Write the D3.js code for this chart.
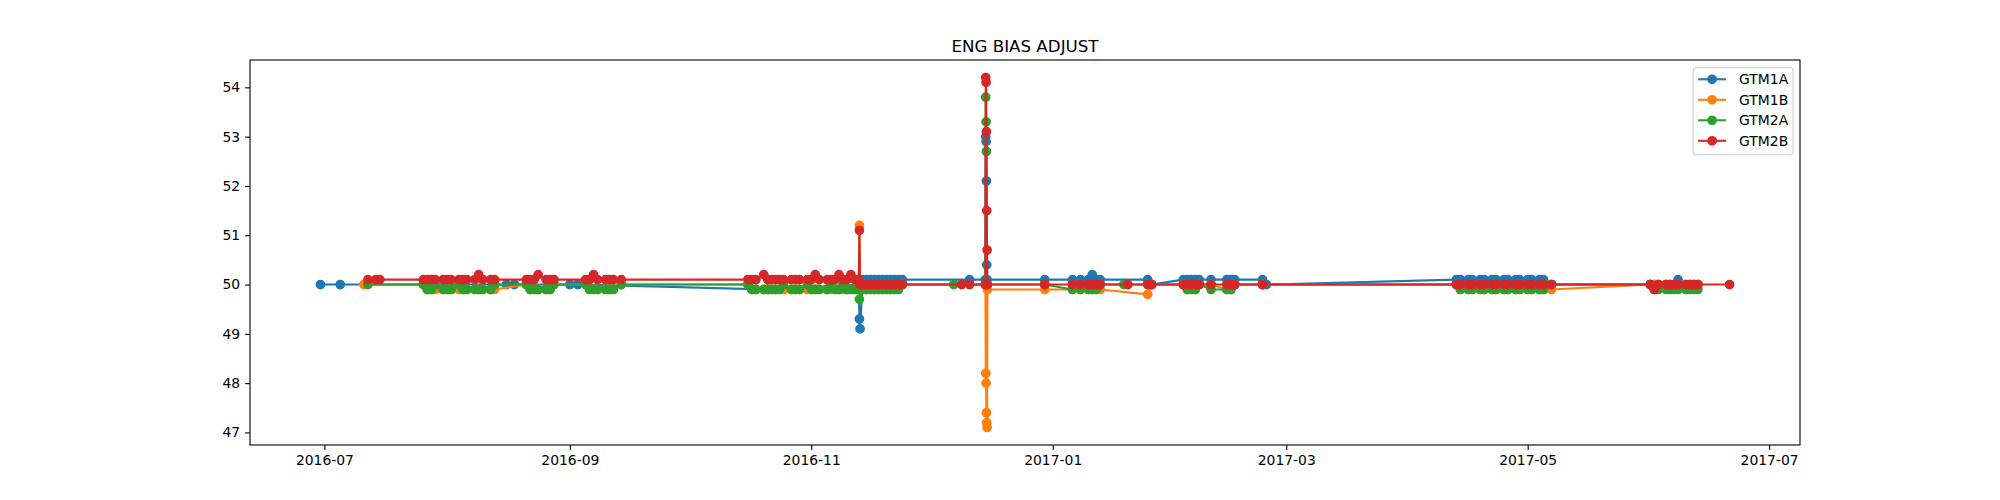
<!DOCTYPE html>
<html>
<head>
<meta charset="utf-8">
<script src="https://cdn.jsdelivr.net/npm/d3@7"></script>
<style>
  body { margin: 0; background: #fff; }
  text { font-family: "DejaVu Sans", sans-serif; }
</style>
</head>
<body>
<div id="chart"></div>
<script>
// reading times (same row for all four channels, null = no reading)
var dates = [
  "2016-06-30","2016-07-05","2016-07-11","2016-07-12","2016-07-14","2016-07-15",
  "2016-07-26","2016-07-27","2016-07-28","2016-07-29","2016-07-31","2016-08-01","2016-08-02","2016-08-04","2016-08-05","2016-08-06","2016-08-08","2016-08-09","2016-08-10","2016-08-12","2016-08-13",
  "2016-08-16","2016-08-18",
  "2016-08-21","2016-08-22","2016-08-23","2016-08-24","2016-08-26","2016-08-27","2016-08-28",
  "2016-09-01","2016-09-03",
  "2016-09-05","2016-09-06","2016-09-07","2016-09-08","2016-09-10","2016-09-11","2016-09-12","2016-09-14",
  "2016-10-16","2016-10-17","2016-10-18","2016-10-20","2016-10-21","2016-10-22",
  "2016-10-23","2016-10-24","2016-10-25","2016-10-27","2016-10-28","2016-10-29","2016-10-31","2016-11-01","2016-11-02","2016-11-03","2016-11-05","2016-11-06","2016-11-07","2016-11-08","2016-11-09","2016-11-10","2016-11-11","2016-11-12",
  "2016-11-13 00:00","2016-11-13 04:00","2016-11-13 08:00",
  "2016-11-14","2016-11-15","2016-11-16","2016-11-17","2016-11-18","2016-11-19","2016-11-20","2016-11-21","2016-11-22","2016-11-23","2016-11-24",
  "2016-12-07","2016-12-09","2016-12-11",
  "2016-12-15 00:00","2016-12-15 02:00","2016-12-15 04:00","2016-12-15 06:00","2016-12-15 08:00","2016-12-15 10:00","2016-12-15 12:00",
  "2016-12-30","2017-01-06","2017-01-08","2017-01-10","2017-01-11","2017-01-12","2017-01-13",
  "2017-01-19","2017-01-20","2017-01-25","2017-01-26",
  "2017-02-03","2017-02-04","2017-02-05","2017-02-06","2017-02-07",
  "2017-02-10","2017-02-14","2017-02-15","2017-02-16","2017-02-23","2017-02-24",
  "2017-04-13","2017-04-14","2017-04-16","2017-04-17","2017-04-19","2017-04-20","2017-04-22","2017-04-23","2017-04-25","2017-04-26","2017-04-28","2017-04-29","2017-05-01","2017-05-02","2017-05-04","2017-05-05","2017-05-07",
  "2017-06-01","2017-06-02","2017-06-03","2017-06-05","2017-06-06","2017-06-07","2017-06-08","2017-06-10","2017-06-11","2017-06-12","2017-06-13",
  "2017-06-21"
];

var gtm1a = [
  50.0,50.0,null,null,null,null,
  null,null,null,null,null,null,null,null,null,null,null,null,null,null,null,
  50.0,50.0,
  null,null,null,null,null,null,null,
  50.0,50.0,
  null,null,null,null,null,null,null,null,
  null,null,null,null,49.9,null,
  null,null,null,null,null,null,null,null,null,null,null,null,null,null,null,null,null,null,
  50.0,49.3,49.1,
  50.1,50.1,50.1,50.1,50.1,50.1,50.1,50.1,50.1,50.1,50.1,
  null,null,50.1,
  50.1,53.0,52.9,52.1,50.4,50.1,null,
  50.1,50.1,50.1,50.1,50.2,50.1,50.1,
  null,null,50.1,50.0,
  50.1,50.1,50.1,50.1,50.1,
  50.1,50.1,50.1,50.1,50.1,50.0,
  50.1,50.1,50.1,50.1,50.1,50.1,50.1,50.1,50.1,50.1,50.1,50.1,50.1,50.1,50.1,50.1,50.0,
  50.0,50.0,50.0,50.0,50.0,50.0,50.1,50.0,50.0,50.0,50.0,
  null
];

var gtm1b = [
  null,null,50.0,null,null,null,
  50.0,49.9,49.9,49.9,49.9,49.9,49.9,49.9,49.9,49.9,49.9,49.9,49.9,49.9,49.9,
  null,null,
  50.0,49.9,49.9,49.9,49.9,49.9,50.0,
  null,null,
  50.0,49.9,49.9,49.9,49.9,49.9,49.9,50.0,
  50.0,49.9,49.9,49.9,49.9,49.9,
  49.9,49.9,49.9,49.9,49.9,49.9,49.9,49.9,49.9,49.9,49.9,49.9,49.9,49.9,49.9,49.9,49.9,49.9,
  49.9,51.2,49.9,
  49.9,49.9,49.9,49.9,49.9,49.9,49.9,49.9,49.9,49.9,50.0,
  null,null,null,
  50.0,48.2,48.0,47.4,47.2,47.1,49.9,
  49.9,49.9,49.9,49.9,49.9,49.9,49.9,
  null,null,49.8,50.0,
  50.0,49.9,49.9,49.9,50.0,
  50.0,49.9,49.9,50.0,50.0,null,
  50.0,49.9,49.9,49.9,49.9,49.9,49.9,49.9,49.9,49.9,49.9,49.9,49.9,49.9,49.9,49.9,49.9,
  50.0,50.0,50.0,50.0,50.0,50.0,50.0,50.0,50.0,50.0,50.0,
  null
];

var gtm2a = [
  null,null,null,50.0,null,null,
  50.0,49.9,49.9,50.0,49.9,49.9,49.9,50.0,49.9,49.9,49.9,49.9,49.9,49.9,50.0,
  null,null,
  50.0,49.9,49.9,49.9,49.9,49.9,50.0,
  null,null,
  50.0,49.9,49.9,49.9,49.9,49.9,49.9,50.0,
  50.0,49.9,49.9,49.9,49.9,49.9,
  49.9,49.9,50.0,49.9,49.9,49.9,50.0,49.9,49.9,49.9,49.9,50.0,49.9,49.9,50.0,49.9,49.9,49.9,
  49.9,49.7,49.9,
  49.9,49.9,49.9,49.9,49.9,49.9,49.9,49.9,49.9,49.9,50.0,
  50.0,null,null,
  50.0,53.8,53.3,52.7,50.0,50.0,null,
  50.0,49.9,49.9,49.9,49.9,49.9,50.0,
  50.0,null,50.0,null,
  50.0,49.9,49.9,49.9,50.0,
  49.9,49.9,49.9,50.0,50.0,null,
  50.0,49.9,49.9,49.9,49.9,49.9,49.9,49.9,49.9,49.9,49.9,49.9,49.9,49.9,49.9,49.9,50.0,
  50.0,49.9,49.9,49.9,49.9,49.9,49.9,49.9,49.9,49.9,49.9,
  null
];

var gtm2b = [
  null,null,null,50.1,50.1,50.1,
  50.1,50.1,50.1,50.1,50.1,50.1,50.1,50.1,50.1,50.1,50.1,50.2,50.1,50.1,50.1,
  null,null,
  50.1,50.1,50.1,50.2,50.1,50.1,50.1,
  null,null,
  50.1,50.1,50.2,50.1,50.1,50.1,50.1,50.1,
  50.1,50.1,50.1,50.2,50.1,50.1,
  50.1,50.1,50.1,50.1,50.1,50.1,50.1,50.1,50.2,50.1,50.1,50.1,50.1,50.2,50.1,50.1,50.2,50.1,
  50.1,51.1,50.0,
  50.0,50.0,50.0,50.0,50.0,50.0,50.0,50.0,50.0,50.0,50.0,
  null,50.0,50.0,
  50.0,54.2,54.1,53.1,51.5,50.7,50.0,
  50.0,50.0,50.0,50.0,50.0,50.0,50.0,
  null,50.0,50.0,50.0,
  50.0,50.0,50.0,50.0,50.0,
  50.0,50.0,50.0,50.0,50.0,null,
  50.0,50.0,50.0,50.0,50.0,50.0,50.0,50.0,50.0,50.0,50.0,50.0,50.0,50.0,50.0,50.0,50.0,
  50.0,49.9,50.0,50.0,50.0,50.0,50.0,50.0,50.0,50.0,50.0,
  50.0
];

var seriesNames = ["GTM1A", "GTM1B", "GTM2A", "GTM2B"];
var seriesColors = ["#1f77b4", "#ff7f0e", "#2ca02c", "#d62728"];
var xTickLabels = ["2016-07", "2016-09", "2016-11", "2017-01", "2017-03", "2017-05", "2017-07"];
var yTickLabels = [47, 48, 49, 50, 51, 52, 53, 54];
var title = "ENG BIAS ADJUST";

// page / axes box (matplotlib 20x5 figure at 100 dpi)
var width = 2000, height = 500;
var axLeft = 250, axRight = 1800, axTop = 60, axBottom = 445;

var parseDay = d3.utcParse("%Y-%m-%d");
var parseTime = d3.utcParse("%Y-%m-%d %H:%M");
var parseMonth = d3.utcParse("%Y-%m");
function toDate(s) {
  return s.length > 10 ? parseTime(s) : parseDay(s);
}
var times = dates.map(toDate);

var allValues = [gtm1a, gtm1b, gtm2a, gtm2b];
var series = allValues.map(function(vals, i) {
  var pts = [];
  vals.forEach(function(v, j) {
    if (v !== null) pts.push({ t: times[j], v: v });
  });
  return { name: seriesNames[i], color: seriesColors[i], points: pts };
});

// domains with matplotlib style 5% margins
var allPts = d3.merge(series.map(function(s) { return s.points; }));
var tExt = d3.extent(allPts, function(p) { return p.t; });
var vExt = d3.extent(allPts, function(p) { return p.v; });
var tPad = (tExt[1] - tExt[0]) * 0.05;
var vPad = (vExt[1] - vExt[0]) * 0.05;

var x = d3.scaleUtc()
  .domain([new Date(+tExt[0] - tPad), new Date(+tExt[1] + tPad)])
  .range([axLeft, axRight]);
var y = d3.scaleLinear()
  .domain([vExt[0] - vPad, vExt[1] + vPad])
  .range([axBottom, axTop]);

var svg = d3.select("#chart").append("svg")
  .attr("width", width)
  .attr("height", height);

svg.append("rect")
  .attr("width", width).attr("height", height)
  .attr("fill", "#fff");

// axes
var xAxis = d3.axisBottom(x)
  .tickValues(xTickLabels.map(parseMonth))
  .tickFormat(d3.utcFormat("%Y-%m"))
  .tickSize(4.9).tickSizeOuter(0).tickPadding(4.9);
var yAxis = d3.axisLeft(y)
  .tickValues(yTickLabels)
  .tickFormat(d3.format("d"))
  .tickSize(4.9).tickSizeOuter(0).tickPadding(4.9);

var gx = svg.append("g").attr("transform", "translate(0," + axBottom + ")").call(xAxis);
var gy = svg.append("g").attr("transform", "translate(" + axLeft + ",0)").call(yAxis);
[gx, gy].forEach(function(g) {
  g.select(".domain").remove();
  g.selectAll(".tick line").attr("stroke", "#000").attr("stroke-width", 1.1);
  g.selectAll(".tick text")
    .attr("fill", "#000")
    .style("font-size", "13.9px")
    .style("font-family", "DejaVu Sans, sans-serif");
});

// lines and markers, one series at a time like matplotlib
var line = d3.line()
  .x(function(p) { return x(p.t); })
  .y(function(p) { return y(p.v); });

series.forEach(function(s) {
  var g = svg.append("g");
  g.append("path")
    .datum(s.points)
    .attr("d", line)
    .attr("fill", "none")
    .attr("stroke", s.color)
    .attr("stroke-width", 2.08)
    .attr("stroke-linejoin", "round")
    .attr("stroke-linecap", "square");
  g.selectAll("circle")
    .data(s.points)
    .enter().append("circle")
    .attr("cx", function(p) { return x(p.t); })
    .attr("cy", function(p) { return y(p.v); })
    .attr("r", 4.17)
    .attr("fill", s.color)
    .attr("stroke", s.color)
    .attr("stroke-width", 1.39);
});

// frame
svg.append("rect")
  .attr("x", axLeft).attr("y", axTop)
  .attr("width", axRight - axLeft).attr("height", axBottom - axTop)
  .attr("fill", "none")
  .attr("stroke", "#000")
  .attr("stroke-width", 1.1);

// title
svg.append("text")
  .attr("x", (axLeft + axRight) / 2)
  .attr("y", axTop - 8.3)
  .attr("text-anchor", "middle")
  .style("font-size", "16.7px")
  .attr("fill", "#000")
  .text(title);

// legend, upper right
var legW = 100, legH = 87;
var legX = axRight - 6.9 - legW, legY = axTop + 7.7;
var leg = svg.append("g");
leg.append("rect")
  .attr("x", legX).attr("y", legY)
  .attr("width", legW).attr("height", legH)
  .attr("rx", 2.8)
  .attr("fill", "#fff").attr("fill-opacity", 0.8)
  .attr("stroke", "#cccccc").attr("stroke-width", 1.1);

var rows = leg.selectAll("g.row")
  .data(series)
  .enter().append("g")
  .attr("class", "row")
  .attr("transform", function(d, i) {
    return "translate(" + legX + "," + (legY + 11.6 + i * 20.5) + ")";
  });
rows.append("line")
  .attr("x1", 5).attr("x2", 33)
  .attr("stroke", function(d) { return d.color; })
  .attr("stroke-width", 2.08);
rows.append("circle")
  .attr("cx", 19).attr("r", 4.17)
  .attr("fill", function(d) { return d.color; })
  .attr("stroke", function(d) { return d.color; })
  .attr("stroke-width", 1.39);
rows.append("text")
  .attr("x", 46)
  .attr("dy", "0.35em")
  .style("font-size", "13.9px")
  .attr("fill", "#000")
  .text(function(d) { return d.name; });
</script>
</body>
</html>
